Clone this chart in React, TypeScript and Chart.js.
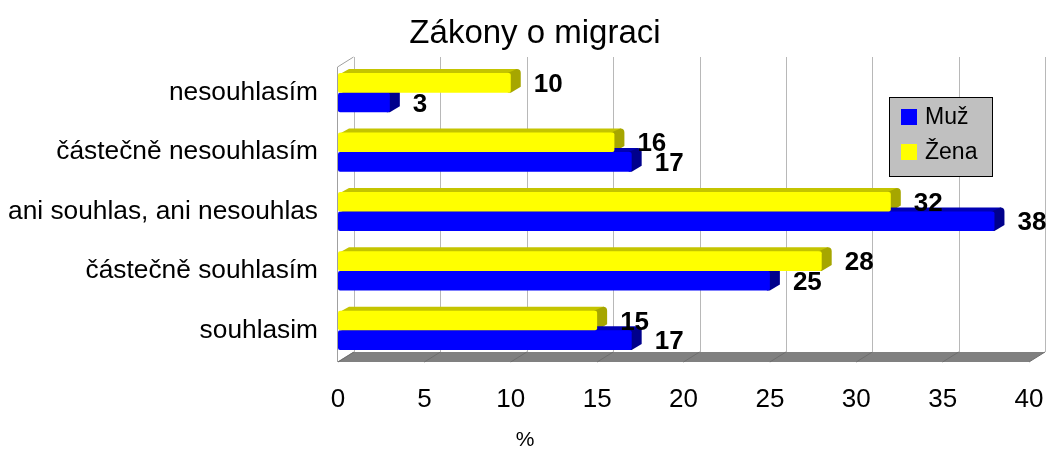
import React, { useEffect, useRef } from "react";
import { Chart, registerables } from "chart.js";

Chart.register(...registerables);

const categories = [
  "nesouhlasím",
  "částečně nesouhlasím",
  "ani souhlas, ani nesouhlas",
  "částečně souhlasím",
  "souhlasim",
];
const muz = [3, 17, 38, 25, 17];
const zena = [10, 16, 32, 28, 15];
const xTicks = [0, 5, 10, 15, 20, 25, 30, 35, 40];
const seriesNames = ["Muž", "Žena"];
const chartTitle = "Zákony o migraci";
const xAxisTitle = "%";

const FONT = "'Liberation Sans', Arial, sans-serif";
const BLUE = "#0000ff";
const YELLOW = "#ffff00";
const BLUE_SIDE = "#00008c";
const BLUE_TOP = "#0000b4";
const YELLOW_SIDE = "#a6a600";
const YELLOW_TOP = "#c4c400";

const WALL_DX = 16;
const WALL_DY = 10;
const BAR_DX = 9;
const BAR_DY = 4;

const scenePlugin = {
  id: "scene3d",
  beforeDatasetsDraw(chart: any) {
    const { ctx, chartArea } = chart;
    const xs = chart.scales.x;
    const left = chartArea.left - 1;
    const top = chartArea.top;
    const bottom = chartArea.bottom;
    ctx.save();
    // floor
    const fy = bottom + 2;
    ctx.fillStyle = "#808080";
    ctx.beginPath();
    ctx.moveTo(left, fy);
    ctx.lineTo(left + WALL_DX, fy - WALL_DY);
    ctx.lineTo(xs.getPixelForValue(40) + WALL_DX, fy - WALL_DY);
    ctx.lineTo(xs.getPixelForValue(40), fy);
    ctx.closePath();
    ctx.fill();
    ctx.strokeStyle = "#6e6e6e";
    ctx.lineWidth = 1;
    xTicks.forEach((v) => {
      const px = xs.getPixelForValue(v);
      ctx.beginPath();
      ctx.moveTo(px, fy);
      ctx.lineTo(px + WALL_DX, fy - WALL_DY);
      ctx.stroke();
    });
    // back wall grid lines
    ctx.strokeStyle = "#b8b8b8";
    xTicks.forEach((v) => {
      const px = Math.round(xs.getPixelForValue(v) + WALL_DX) + 0.5;
      ctx.beginPath();
      ctx.moveTo(px, top - 6);
      ctx.lineTo(px, fy - WALL_DY);
      ctx.stroke();
    });
    // left wall
    ctx.strokeStyle = "#a0a0a0";
    ctx.beginPath();
    ctx.moveTo(left + 0.5, top + 4);
    ctx.lineTo(left + 0.5, fy);
    ctx.moveTo(left + 0.5, top + 4);
    ctx.lineTo(left + WALL_DX + 0.5, top - 6);
    ctx.stroke();

    // 3D faces of bars
    chart.data.datasets.forEach((ds: any, di: number) => {
      const meta = chart.getDatasetMeta(di);
      const side = ds.sideColor;
      const topc = ds.topColor;
      meta.data.forEach((el: any) => {
        const p = el.getProps(["x", "y", "base", "height"], true);
        const t = p.y - p.height / 2;
        const b = p.y + p.height / 2;
        const x0 = p.base + 2;
        const x1 = p.x;
        ctx.fillStyle = topc;
        ctx.beginPath();
        ctx.moveTo(x0, t + 1);
        ctx.lineTo(x0 + BAR_DX, t - BAR_DY);
        ctx.lineTo(x1 + BAR_DX - 2, t - BAR_DY);
        ctx.lineTo(x1, t + 1);
        ctx.closePath();
        ctx.fill();
        ctx.fillStyle = side;
        ctx.beginPath();
        ctx.moveTo(x1 - 3, t);
        ctx.lineTo(x1 + BAR_DX - 3, t - BAR_DY);
        ctx.quadraticCurveTo(x1 + BAR_DX + 1, t - BAR_DY, x1 + BAR_DX + 1, t - BAR_DY + 4);
        ctx.lineTo(x1 + BAR_DX + 1, b - BAR_DY - 2);
        ctx.lineTo(x1, b);
        ctx.lineTo(x1 - 3, b);
        ctx.closePath();
        ctx.fill();
      });
    });
    ctx.restore();
  },
  afterDatasetsDraw(chart: any) {
    const { ctx } = chart;
    ctx.save();
    // data labels
    ctx.fillStyle = "#000";
    ctx.font = `bold 26px ${FONT}`;
    ctx.textAlign = "left";
    ctx.textBaseline = "middle";
    chart.data.datasets.forEach((ds: any, di: number) => {
      const meta = chart.getDatasetMeta(di);
      meta.data.forEach((el: any, i: number) => {
        const p = el.getProps(["x", "y"], true);
        ctx.fillText(String(ds.data[i]), p.x + 23, p.y + 2);
      });
    });
    // title
    ctx.font = `33px ${FONT}`;
    ctx.textAlign = "center";
    ctx.textBaseline = "alphabetic";
    ctx.fillText(chartTitle, 535, 43);
    // x axis title
    ctx.font = `21px ${FONT}`;
    ctx.fillText(xAxisTitle, 525, 446);
    // legend
    const lx = 889.5, ly = 97.5, lw = 103, lh = 79;
    ctx.fillStyle = "#c0c0c0";
    ctx.fillRect(lx, ly, lw, lh);
    ctx.strokeStyle = "#000";
    ctx.lineWidth = 1;
    ctx.strokeRect(lx, ly, lw, lh);
    const items = [
      { name: seriesNames[0], color: BLUE, cy: 117 },
      { name: seriesNames[1], color: YELLOW, cy: 152 },
    ];
    ctx.font = `23px ${FONT}`;
    ctx.textAlign = "left";
    ctx.textBaseline = "middle";
    items.forEach((it) => {
      ctx.fillStyle = it.color;
      ctx.fillRect(901, it.cy - 8, 16, 16);
      ctx.fillStyle = "#000";
      ctx.fillText(it.name, 925, it.cy + 1);
    });
    ctx.restore();
  },
};

export default function App() {
  const ref = useRef<HTMLCanvasElement | null>(null);
  useEffect(() => {
    document.body.style.margin = "0";
    const canvas = ref.current;
    if (!canvas) return;
    const chart = new Chart(canvas, {
      type: "bar",
      data: {
        labels: categories,
        datasets: [
          {
            label: seriesNames[1],
            data: zena,
            backgroundColor: YELLOW,
            borderRadius: 2,
            borderSkipped: false,
            sideColor: YELLOW_SIDE,
            topColor: YELLOW_TOP,
          } as any,
          {
            label: seriesNames[0],
            data: muz,
            backgroundColor: BLUE,
            borderRadius: 2,
            borderSkipped: false,
            sideColor: BLUE_SIDE,
            topColor: BLUE_TOP,
          } as any,
        ],
      },
      options: {
        indexAxis: "y",
        responsive: false,
        animation: false,
        devicePixelRatio: 1,
        layout: { padding: { top: 63, right: 19, left: 0, bottom: 0 } },
        datasets: {
          bar: { categoryPercentage: 0.66, barPercentage: 1 },
        },
        plugins: {
          legend: { display: false },
          title: { display: false },
          tooltip: { enabled: false },
        },
        scales: {
          x: {
            min: 0,
            max: 40,
            ticks: {
              stepSize: 5,
              color: "#000",
              font: { family: FONT, size: 26 },
              padding: 24,
            },
            grid: { display: false, drawTicks: false },
            border: { display: false },
            afterFit(scale: any) {
              scale.height = 90;
              scale.paddingLeft = 0;
              scale.paddingRight = 0;
            },
          },
          y: {
            ticks: {
              color: "#000",
              font: { family: FONT, size: 26.3 },
              padding: 20,
            },
            grid: { display: false, drawTicks: false },
            border: { display: false },
            afterFit(scale: any) {
              scale.width = 338;
              scale.paddingTop = 0;
              scale.paddingBottom = 0;
            },
          },
        },
      } as any,
      plugins: [scenePlugin],
    });
    return () => chart.destroy();
  }, []);
  return (
    <div style={{ width: 1048, height: 450, background: "#fff" }}>
      <canvas ref={ref} width={1048} height={450} />
    </div>
  );
}
